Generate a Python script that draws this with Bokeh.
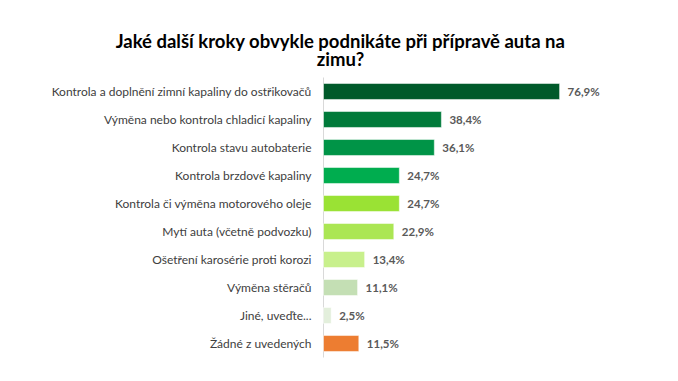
from bokeh.plotting import figure
from bokeh.models import ColumnDataSource, Range1d
from bokeh.core.properties import value
from bokeh.embed import file_html
from bokeh.resources import INLINE

categories = [
    "Kontrola a doplnění zimní kapaliny do ostřikovačů",
    "Výměna nebo kontrola chladicí kapaliny",
    "Kontrola stavu autobaterie",
    "Kontrola brzdové kapaliny",
    "Kontrola či výměna motorového oleje",
    "Mytí auta (včetně podvozku)",
    "Ošetření karosérie proti korozi",
    "Výměna stěračů",
    "Jiné, uveďte...",
    "Žádné z uvedených",
]
values = [76.9, 38.4, 36.1, 24.7, 24.7, 22.9, 13.4, 11.1, 2.5, 11.5]
value_labels = ["76,9%", "38,4%", "36,1%", "24,7%", "24,7%", "22,9%", "13,4%", "11,1%", "2,5%", "11,5%"]
colors = ["#005a2a", "#007a3a", "#009447", "#00ad4f", "#9ae234", "#abe653",
          "#c8f08c", "#c4dfb4", "#e3efdc", "#ed7d31"]

title_lines = ["Jaké další kroky obvykle podnikáte při přípravě auta na", "zimu?"]
FONT = "Lato"

# ---- layout constants (pixels) ----
W, H = 662, 365
AXIS_PX = 323        # x pixel of the value axis (value 0)
PX_PER_UNIT = 3.07   # pixels per percentage point
ROW0_PX = 91         # y pixel of first row centre
ROW_PX = 28          # row pitch
TITLE_PX = [40, 58.5]  # title line centres
CX_TITLE = 340

x_range = Range1d(-AXIS_PX / PX_PER_UNIT, (W - AXIS_PX) / PX_PER_UNIT)
y_range = Range1d((H - ROW0_PX) / ROW_PX, -ROW0_PX / ROW_PX)

p = figure(width=W, height=H, output_backend="svg", toolbar_location=None,
           x_range=x_range, y_range=y_range, min_border=0)

n = len(categories)
rows = list(range(n))
src = ColumnDataSource(dict(row=rows, cat=categories, val=values, lab=value_labels, col=colors))

# axis line
p.segment(x0=[0], y0=[-0.5], x1=[0], y1=[n - 0.5], line_color="#d9d9d9", line_width=1)

# bars
p.hbar(y="row", right="val", left=0, height=0.57, fill_color="col",
       line_color="white", line_alpha=0.5, line_width=1, source=src)

# value labels
p.text(x="val", y="row", text="lab", source=src, x_offset=8,
       text_baseline="middle", text_align="left", text_font=value(FONT),
       text_font_size="11.5px", text_font_style="bold", text_color="#595959")

# category labels
p.text(x=0, y="row", text="cat", source=src, x_offset=-12,
       text_baseline="middle", text_align="right", text_font=value(FONT),
       text_font_size="12px", text_color="#404040")

# title
p.text(x=[(CX_TITLE - AXIS_PX) / PX_PER_UNIT] * 2,
       y=[(t - ROW0_PX) / ROW_PX for t in TITLE_PX],
       text=title_lines, text_align="center", text_baseline="middle",
       text_font=value(FONT), text_font_size="18.5px", text_font_style="bold",
       text_color="#000000")

p.axis.visible = False
p.grid.visible = False
p.outline_line_color = None

open("out.html", "w").write(file_html(p, INLINE))
